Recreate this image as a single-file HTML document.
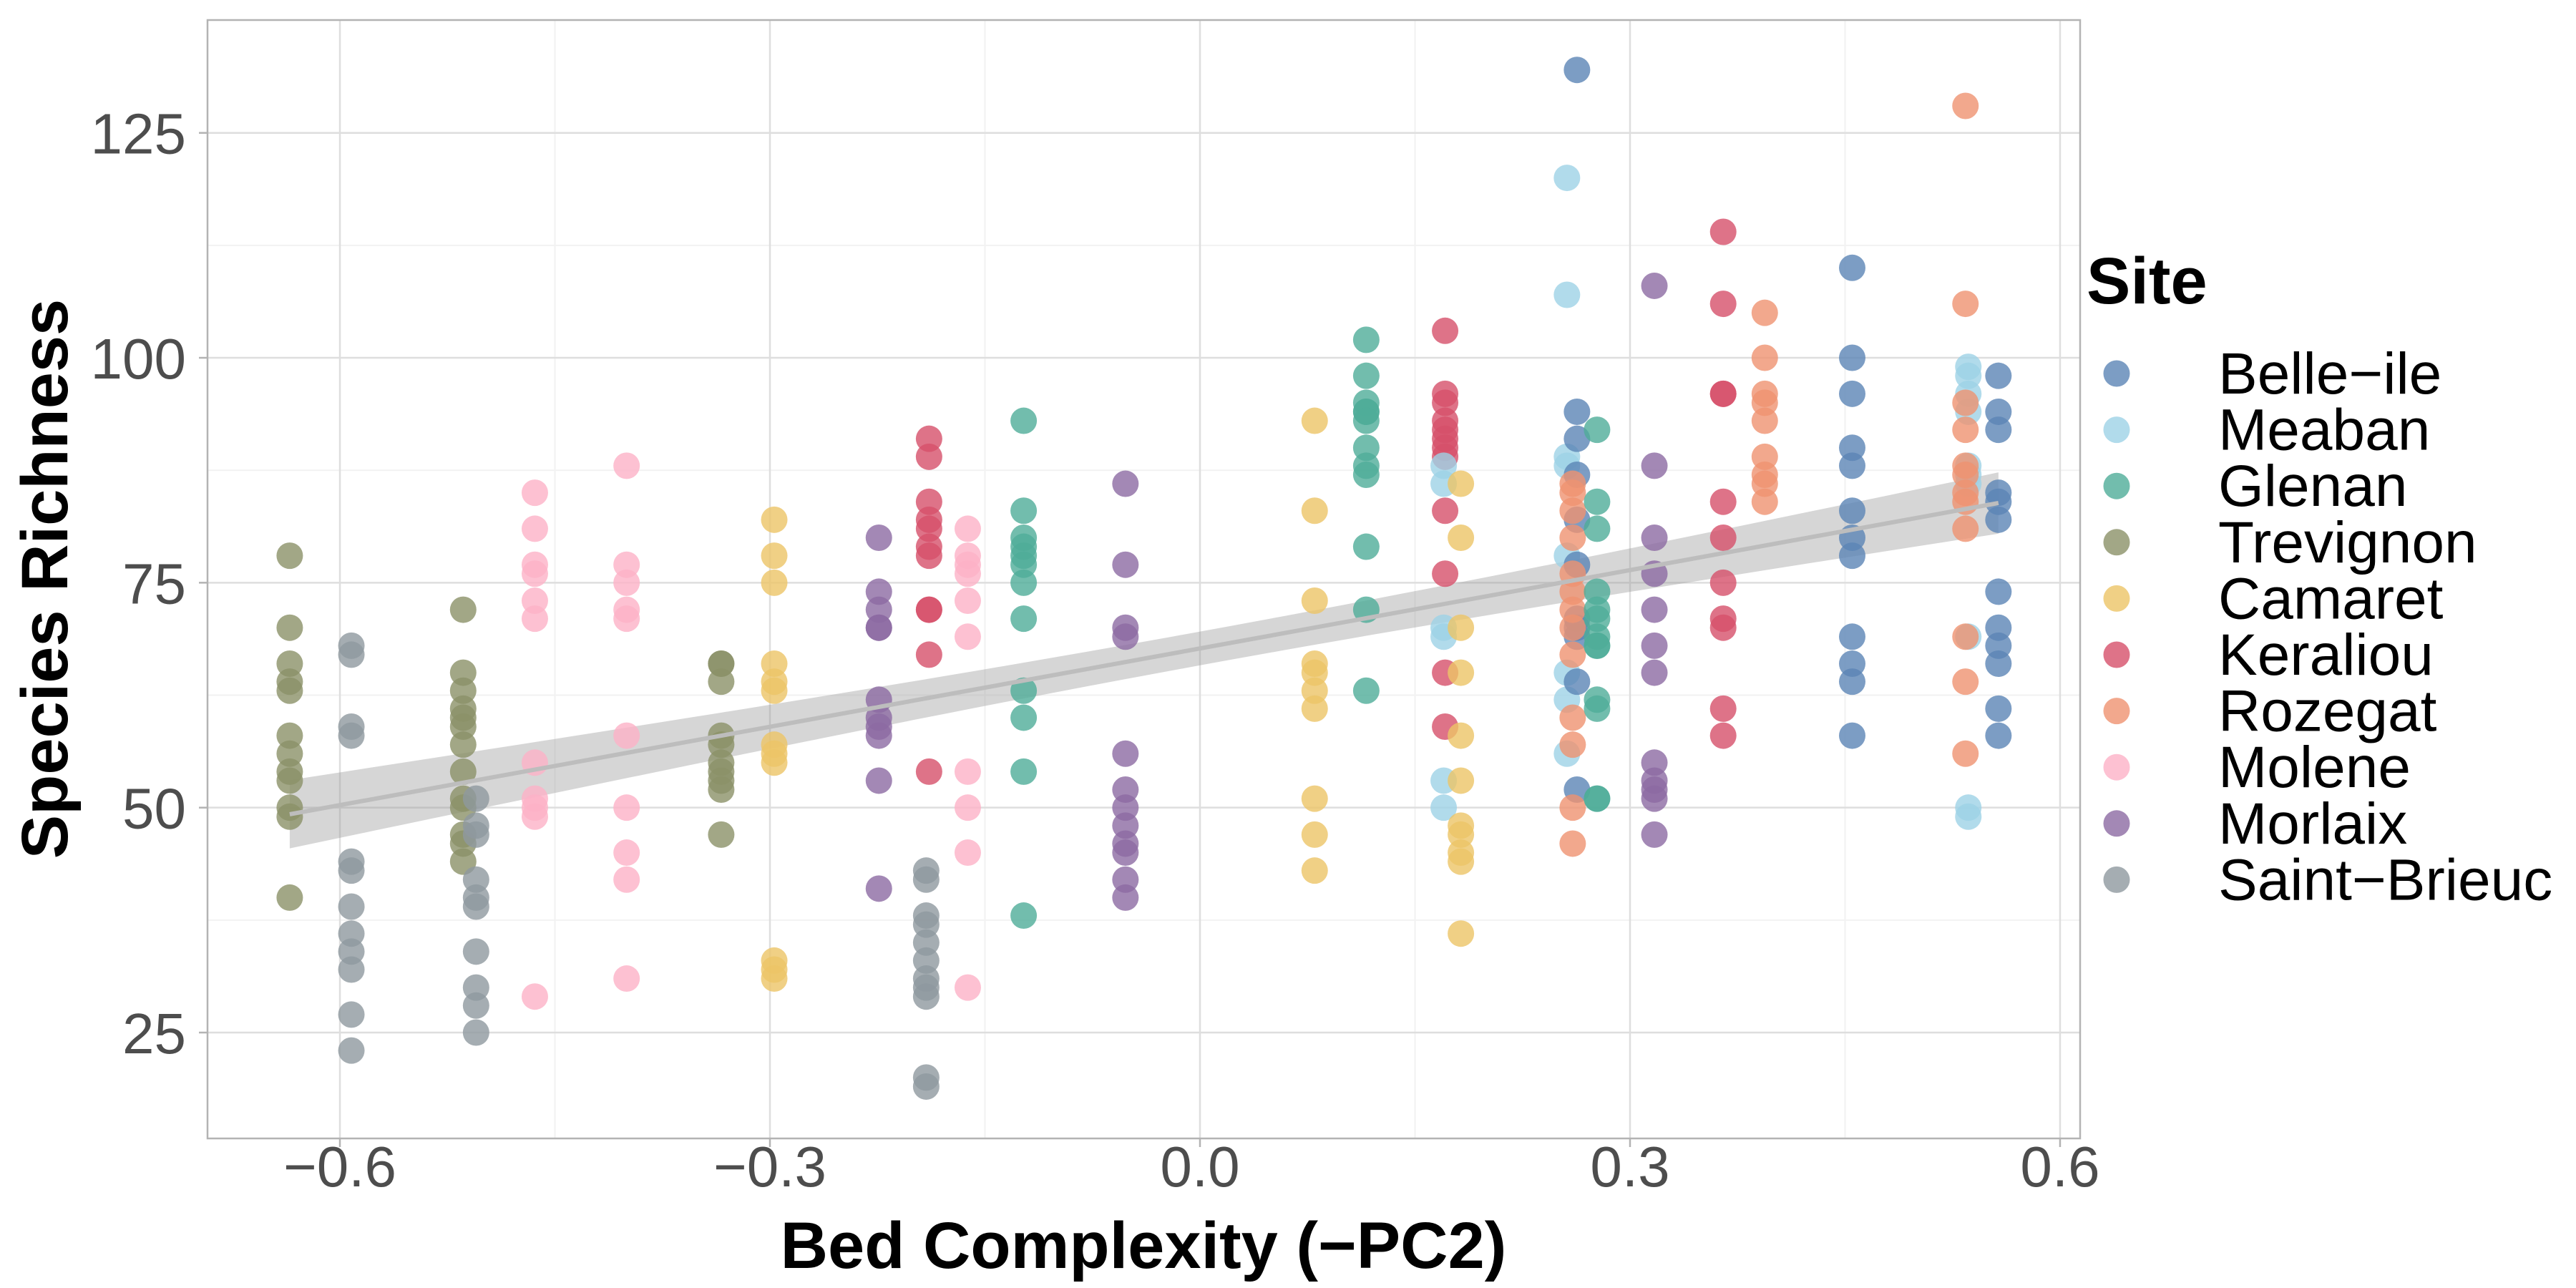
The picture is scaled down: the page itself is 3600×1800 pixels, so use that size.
<!DOCTYPE html>
<html><head><meta charset="utf-8"><style>
html,body{margin:0;padding:0;background:#fff;}
svg{display:block;font-family:"Liberation Sans",Arial,sans-serif;}
</style></head><body>
<svg id="chart" width="3600" height="1800" viewBox="0 0 3600 1800" xmlns="http://www.w3.org/2000/svg">
<g id="grid"></g>
<g id="ribbon"></g>
<g id="points"></g>
<g id="fit"></g>
<g id="axes"></g>
<g id="legend"></g>
<text x="1598" y="1772" text-anchor="middle" font-size="92" font-weight="bold" fill="#000">Bed Complexity (−PC2)</text>
<text transform="translate(94,809) rotate(-90)" text-anchor="middle" font-size="92" font-weight="bold" fill="#000">Species Richness</text>
</svg>
<script>
const sites = ["Belle-ile","Meaban","Glenan","Trevignon","Camaret","Keraliou","Rozegat","Molene","Morlaix","Saint-Brieuc"];
const siteColors = ["#5b85b5","#9dd2e6","#4fad98","#8b9168","#ecc467","#d6506a","#ef9270","#fdb1c7","#8c6aa2","#8e989f"];
const groupSite = [3,9,3,9,7,7,3,4,8,5,9,7,2,8,4,2,5,1,4,1,0,6,2,8,5,6,0,1,6,0];
const groupX = [-0.635,-0.592,-0.514,-0.505,-0.464,-0.4,-0.334,-0.297,-0.224,-0.189,-0.191,-0.162,-0.123,-0.052,0.08,0.116,0.171,0.17,0.182,0.256,0.263,0.26,0.277,0.317,0.365,0.394,0.455,0.536,0.534,0.557];
const groupValues = [
[78,70,66,64,63,58,56,54,53,50,49,40],
[68,67,59,58,44,43,39,36,34,32,27,23],
[72,65,63,61,60,59,57,54,51,50,47,46,44],
[51,48,47,42,40,39,34,30,28,25],
[85,81,77,76,73,71,55,51,50,49,29],
[88,77,75,72,71,58,50,45,42,31],
[66,66,64,58,57,55,54,53,52,47],
[82,78,75,66,64,63,57,56,55,33,32,31],
[80,74,72,70,70,62,60,59,58,53,41],
[91,89,84,82,81,79,78,72,72,67,54],
[43,42,38,37,35,33,31,30,29,20,19],
[81,78,77,76,73,69,54,50,45,30],
[93,83,80,79,78,77,75,71,63,60,54,38],
[86,77,70,69,56,52,50,48,46,45,42,40],
[93,83,73,66,65,63,61,51,47,43],
[102,98,95,94,94,93,90,88,87,79,72,63],
[103,96,95,93,92,91,90,89,83,76,65,59],
[88,86,70,69,53,50],
[86,80,70,65,58,53,48,47,45,44,36],
[120,107,89,88,78,65,62,56],
[132,94,91,87,82,77,71,70,69,64,52],
[86,85,83,80,76,74,72,70,67,60,57,50,46],
[92,84,81,74,72,71,69,68,68,62,61,51,51],
[108,88,80,76,72,68,65,55,53,52,51,47],
[114,106,96,96,84,80,75,71,70,61,58],
[105,100,96,95,93,89,87,86,84],
[110,100,96,90,88,83,80,78,69,66,64,58],
[99,98,96,94,88,87,86,69,50,49],
[128,106,95,92,88,87,85,84,81,69,64,56],
[98,94,92,85,84,82,74,70,68,66,61,58]];
const xTicks = [-0.6,-0.3,0.0,0.3,0.6];
const xTickLabels = ["−0.6","−0.3","0.0","0.3","0.6"];
const xMinor = [-0.45,-0.15,0.15,0.45];
const yTicks = [25,50,75,100,125];
const yTickLabels = ["25","50","75","100","125"];
const yMinor = [37.5,62.5,87.5,112.5];

const NS="http://www.w3.org/2000/svg";
const P={l:290,r:2907,t:28,b:1591};
const xs=v=>1677+(v)*2003.3;
const ys=v=>1443-(v-25)*12.573;
function mk(tag,attrs,parent){const e=document.createElementNS(NS,tag);for(const k in attrs)e.setAttribute(k,attrs[k]);parent.appendChild(e);return e;}
const grid=document.getElementById('grid'),axes=document.getElementById('axes');
mk('rect',{x:P.l,y:P.t,width:P.r-P.l,height:P.b-P.t,fill:'#fff'},grid);
xMinor.forEach(v=>{const l=mk('line',{x1:xs(v),x2:xs(v),y1:P.t,y2:P.b,stroke:'#f2f2f2','stroke-width':2},grid);

});
yMinor.forEach(v=>{const l=mk('line',{x1:P.l,x2:P.r,y1:ys(v),y2:ys(v),stroke:'#f2f2f2','stroke-width':2},grid);

});
xTicks.forEach((v,i)=>{const l=mk('line',{x1:xs(v),x2:xs(v),y1:P.t,y2:P.b,stroke:'#dedede','stroke-width':2.5},grid);


const tk=mk('line',{x1:xs(v),x2:xs(v),y1:P.b,y2:P.b+12,stroke:'#b3b3b3','stroke-width':2.5},axes);


const t=mk('text',{x:xs(v),y:P.b+67,'text-anchor':'middle','font-size':80,fill:'#4d4d4d'},axes);t.textContent=xTickLabels[i];

});
yTicks.forEach((v,i)=>{const l=mk('line',{x1:P.l,x2:P.r,y1:ys(v),y2:ys(v),stroke:'#dedede','stroke-width':2.5},grid);


const tk=mk('line',{x1:P.l-12,x2:P.l,y1:ys(v),y2:ys(v),stroke:'#b3b3b3','stroke-width':2.5},axes);


const t=mk('text',{x:P.l-30,y:ys(v)+29,'text-anchor':'end','font-size':80,fill:'#4d4d4d'},axes);t.textContent=yTickLabels[i];

});
const border=mk('rect',{x:P.l,y:P.t,width:P.r-P.l,height:P.b-P.t,fill:'none',stroke:'#b3b3b3','stroke-width':2.5},axes);



const pts=document.getElementById('points');
let X=[],Y=[];
groupValues.forEach((vals,g)=>{vals.forEach(v=>{X.push(groupX[g]);Y.push(v);
const c=mk('circle',{cx:xs(groupX[g]),cy:ys(v),r:18.5,fill:siteColors[groupSite[g]],'fill-opacity':0.8},pts);

});});

const n=X.length,mx=X.reduce((a,b)=>a+b)/n,my=Y.reduce((a,b)=>a+b)/n;
let sxx=0,sxy=0;for(let i=0;i<n;i++){sxx+=(X[i]-mx)**2;sxy+=(X[i]-mx)*(Y[i]-my);}
const b=sxy/sxx,a=my-b*mx;let sse=0;for(let i=0;i<n;i++)sse+=(Y[i]-a-b*X[i])**2;
const s=Math.sqrt(sse/(n-2)),tq=1.97;
const x0=Math.min(...X),x1=Math.max(...X);
let up=[],lo=[];
for(let k=0;k<=60;k++){const x=x0+(x1-x0)*k/60,y=a+b*x,h=tq*s*Math.sqrt(1/n+(x-mx)**2/sxx);
up.push(xs(x)+','+ys(y+h));lo.unshift(xs(x)+','+ys(y-h));}
const rib=mk('polygon',{points:up.concat(lo).join(' '),fill:'#999','fill-opacity':0.4},document.getElementById('ribbon'));


const fl=mk('line',{x1:xs(x0),y1:ys(a+b*x0),x2:xs(x1),y2:ys(a+b*x1),stroke:'#bdbdbd','stroke-width':6},document.getElementById('fit'));



const lg=document.getElementById('legend');
const tt=mk('text',{x:2916,y:424,'font-size':92,'font-weight':'bold',fill:'#000'},lg);tt.textContent='Site';


sites.forEach((s,i)=>{const y=522+i*78.6;
const c=mk('circle',{cx:2958,cy:y,r:18.5,fill:siteColors[i],'fill-opacity':0.8},lg);


const t=mk('text',{x:3100,y:y+28,'font-size':82,fill:'#000'},lg);t.textContent=s.replace('-','−');

});
</script>
</body></html>
